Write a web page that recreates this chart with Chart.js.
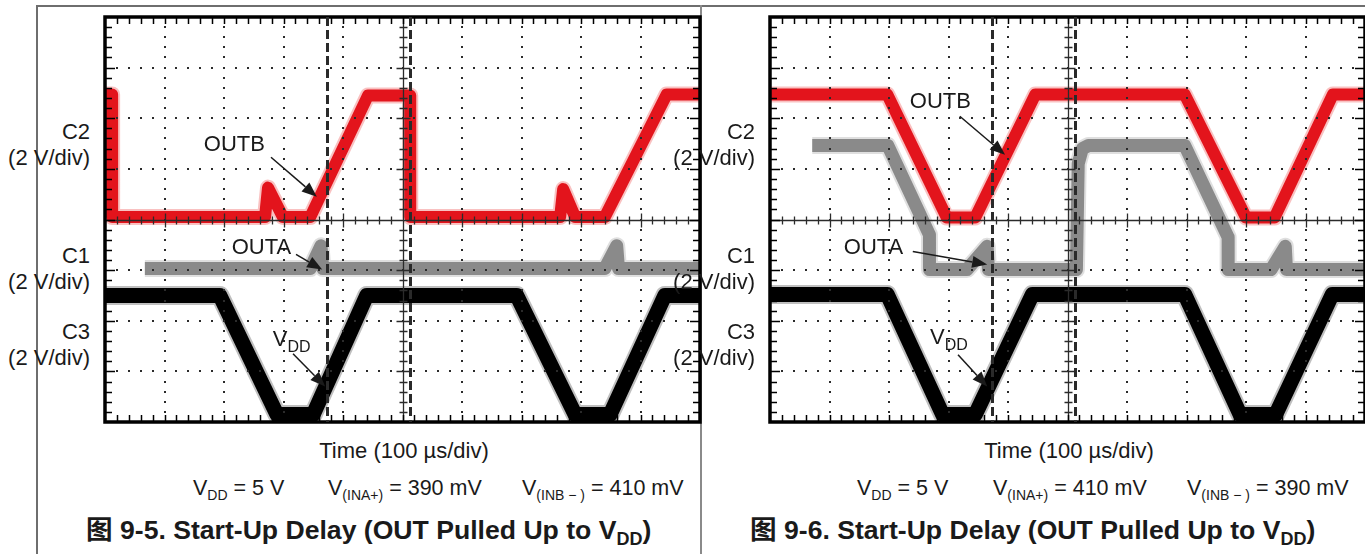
<!DOCTYPE html>
<html>
<head>
<meta charset="utf-8">
<script src="https://cdn.jsdelivr.net/npm/chart.js@4.4.1/dist/chart.umd.min.js"></script>
<style>
  body { margin: 0; width: 1365px; height: 554px; overflow: hidden; background: #fff; position: relative;
         font-family: Arial, "Liberation Sans", "Noto Sans CJK SC", sans-serif; color: #1a1a1a; }
  .rule  { position: absolute; background: #6e6e6e; }
  .lab   { position: absolute; width: 90px; text-align: right; font-size: 22px; line-height: 26px; }
  .txt   { position: absolute; font-size: 22px; line-height: 26px; white-space: nowrap; }
  .cond  { font-size: 21.5px; }
  .txt sub { font-size: 14px; vertical-align: -5px; line-height: 0; }
  .title { position: absolute; font-size: 26.6px; font-weight: bold; white-space: nowrap; line-height: 28px; }
  .title sub { font-size: 18px; vertical-align: -6px; line-height: 0; }
  canvas { position: absolute; }
</style>
</head>
<body>

<div class="rule" style="left:36px;top:5px;width:1329px;height:2px"></div>
<div class="rule" style="left:36px;top:5px;width:2px;height:549px"></div>
<div class="rule" style="left:700px;top:5px;width:2px;height:549px;background:#8a8a8a"></div>

<canvas id="fig5" width="615" height="425" style="left:95px;top:7px"></canvas>
<canvas id="fig6" width="615" height="425" style="left:760px;top:7px"></canvas>

<!-- channel labels, figure 9-5 -->
<div class="lab" style="left:0;top:119px">C2<br>(2 V/div)</div>
<div class="lab" style="left:0;top:243px">C1<br>(2 V/div)</div>
<div class="lab" style="left:0;top:319px">C3<br>(2 V/div)</div>
<!-- channel labels, figure 9-6 -->
<div class="lab" style="left:665px;top:119px">C2<br>(2 V/div)</div>
<div class="lab" style="left:665px;top:243px">C1<br>(2 V/div)</div>
<div class="lab" style="left:665px;top:319px">C3<br>(2 V/div)</div>

<div class="txt" style="left:104px;top:438px;width:600px;text-align:center">Time (100 µs/div)</div>
<div class="txt" style="left:769px;top:438px;width:600px;text-align:center">Time (100 µs/div)</div>

<div class="txt cond" style="left:193px;top:475px">V<sub>DD</sub> = 5 V</div>
<div class="txt cond" style="left:328px;top:475px">V<sub>(INA+)</sub> = 390 mV</div>
<div class="txt cond" style="left:522px;top:475px">V<sub>(INB − )</sub> = 410 mV</div>

<div class="txt cond" style="left:857px;top:475px">V<sub>DD</sub> = 5 V</div>
<div class="txt cond" style="left:993px;top:475px">V<sub>(INA+)</sub> = 410 mV</div>
<div class="txt cond" style="left:1187px;top:475px">V<sub>(INB − )</sub> = 390 mV</div>

<div class="title" style="left:86px;top:516px">图 9-5. Start-Up Delay (OUT Pulled Up to V<sub>DD</sub>)</div>
<div class="title" style="left:750px;top:516px">图 9-6. Start-Up Delay (OUT Pulled Up to V<sub>DD</sub>)</div>

<script>
// ── Traces, in screen divisions (x: 0..10 at 100 µs/div, y: -4..4) ──────
// Figure 9-5
var outbT5 = [0, 0.12, 0.12, 2.69, 2.74, 2.99, 3.45, 4.42, 5.13, 5.13, 7.65, 7.70, 7.90, 8.40, 9.44, 10];
var outbV5 = [2.47, 2.47, 0.05, 0.05, 0.63, 0.05, 0.05, 2.45, 2.45, 0.05, 0.05, 0.60, 0.05, 0.05, 2.47, 2.47];
var outaT5 = [0.67, 3.45, 3.63, 3.66, 8.40, 8.60, 8.63, 10];
var outaV5 = [-0.97, -0.97, -0.52, -0.97, -0.97, -0.52, -0.97, -0.97];
var vddT5  = [0, 1.93, 2.89, 3.50, 4.40, 6.92, 7.90, 8.49, 9.41, 10];
var vddV5  = [-1.50, -1.50, -3.85, -3.85, -1.50, -1.50, -3.85, -3.85, -1.50, -1.50];
var cursors5 = [3.73, 5.13];

// Figure 9-6
var outbT6 = [0, 1.97, 2.97, 3.45, 4.46, 6.97, 8.00, 8.48, 9.46, 10];
var outbV6 = [2.47, 2.47, 0.04, 0.04, 2.47, 2.47, 0.04, 0.04, 2.47, 2.47];
var outaT6 = [0.71, 1.98, 2.68, 2.68, 3.31, 3.65, 3.67, 5.15, 5.18, 5.25, 5.35, 6.97, 7.70, 7.70, 8.42, 8.66, 8.68, 10];
var outaV6 = [1.46, 1.46, -0.30, -0.99, -0.99, -0.53, -0.99, -0.99, 1.10, 1.40, 1.46, 1.46, -0.35, -0.99, -0.99, -0.53, -0.99, -0.99];
var vddT6  = [0, 1.97, 2.90, 3.45, 4.41, 6.97, 7.90, 8.50, 9.45, 10];
var vddV6  = [-1.48, -1.48, -3.85, -3.85, -1.48, -1.48, -3.85, -3.85, -1.48, -1.48];
var cursors6 = [3.73, 5.13];

// Callouts (label position + arrow, in divisions)
var notes5 = [
    { text: 'OUTB', x: 1.66, y: 1.48,  from: [2.79, 1.23],  to: [3.56, 0.45] },
    { text: 'OUTA', x: 2.13, y: -0.57, from: [3.21, -0.69], to: [3.65, -0.99] },
    { text: 'V', sub: 'DD', x: 2.82, y: -2.37, from: [3.16, -2.65], to: [3.70, -3.30] }
];
var notes6 = [
    { text: 'OUTB', x: 2.35, y: 2.33,  from: [3.19, 2.04],  to: [3.95, 1.28] },
    { text: 'OUTA', x: 1.24, y: -0.57, from: [2.40, -0.63], to: [3.65, -0.89] },
    { text: 'V', sub: 'DD', x: 2.69, y: -2.33, from: [3.16, -2.67], to: [3.65, -3.30] }
];

function pts(t, v) {
    return t.map(function(x, i) { return { x: x, y: v[i] }; });
}

// ── Oscilloscope graticule, cursors and callouts ─────────────────────────
var scopePlugin = {
    id: 'scope',
    afterDatasetsDraw: function(chart, args, opts) {
        var ctx = chart.ctx, a = chart.chartArea;
        var sx = chart.scales.x, sy = chart.scales.y;
        var i, k, px, py;
        ctx.save();

        // dotted grid
        ctx.fillStyle = '#2b2b2b';
        for (i = 1; i < 10; i++) {
            if (i === 5) continue;
            px = Math.round(sx.getPixelForValue(i));
            for (k = 1; k < 40; k++) {
                py = Math.round(sy.getPixelForValue(-4 + k * 0.2));
                ctx.fillRect(px - 1, py - 1, 2, 2);
            }
        }
        for (i = -3; i <= 3; i++) {
            if (i === 0) continue;
            py = Math.round(sy.getPixelForValue(i));
            for (k = 1; k < 50; k++) {
                px = Math.round(sx.getPixelForValue(k * 0.2));
                ctx.fillRect(px - 1, py - 1, 2, 2);
            }
        }

        // centre cross with ticks
        var cx = Math.round(sx.getPixelForValue(5)) + 0.5;
        var cy = Math.round(sy.getPixelForValue(0)) + 0.5;
        ctx.strokeStyle = '#2b2b2b';
        ctx.lineWidth = 1.3;
        ctx.beginPath();
        ctx.moveTo(a.left, cy); ctx.lineTo(a.right, cy);
        ctx.moveTo(cx, a.top); ctx.lineTo(cx, a.bottom);
        for (k = 1; k < 50; k++) {
            px = Math.round(sx.getPixelForValue(k * 0.2)) + 0.5;
            var h = (k % 5 === 0) ? 7 : 4;
            ctx.moveTo(px, cy - h); ctx.lineTo(px, cy + h);
        }
        for (k = 1; k < 40; k++) {
            py = Math.round(sy.getPixelForValue(-4 + k * 0.2)) + 0.5;
            var w = (k % 5 === 0) ? 7 : 4;
            ctx.moveTo(cx - w, py); ctx.lineTo(cx + w, py);
        }
        ctx.stroke();

        // border ticks
        ctx.strokeStyle = '#000';
        ctx.lineWidth = 1.5;
        ctx.beginPath();
        for (k = 1; k < 50; k++) {
            px = Math.round(sx.getPixelForValue(k * 0.2)) + 0.5;
            ctx.moveTo(px, a.top); ctx.lineTo(px, a.top + 7);
            ctx.moveTo(px, a.bottom); ctx.lineTo(px, a.bottom - 7);
        }
        for (k = 1; k < 40; k++) {
            py = Math.round(sy.getPixelForValue(-4 + k * 0.2)) + 0.5;
            var len = (k % 5 === 0) ? 10 : 7;
            ctx.moveTo(a.left, py); ctx.lineTo(a.left + len, py);
            ctx.moveTo(a.right, py); ctx.lineTo(a.right - len, py);
        }
        ctx.stroke();

        // frame
        ctx.lineWidth = 3.5;
        ctx.strokeRect(a.left, a.top, a.right - a.left, a.bottom - a.top);

        // cursors
        ctx.strokeStyle = '#2a2a2a';
        ctx.lineWidth = 3;
        ctx.setLineDash([9, 4]);
        ctx.beginPath();
        opts.cursors.forEach(function(c) {
            var cxp = Math.round(sx.getPixelForValue(c)) + 0.5;
            ctx.moveTo(cxp, a.top); ctx.lineTo(cxp, a.bottom);
        });
        ctx.stroke();
        ctx.setLineDash([]);

        // callouts
        ctx.fillStyle = '#1a1a1a';
        ctx.strokeStyle = '#1a1a1a';
        ctx.textBaseline = 'middle';
        ctx.textAlign = 'left';
        opts.notes.forEach(function(n) {
            var tx = sx.getPixelForValue(n.x), ty = sy.getPixelForValue(n.y);
            ctx.font = '22px Arial, "Liberation Sans", sans-serif';
            ctx.fillText(n.text, tx, ty);
            if (n.sub) {
                var tw = ctx.measureText(n.text).width;
                ctx.font = '16px Arial, "Liberation Sans", sans-serif';
                ctx.fillText(n.sub, tx + tw, ty + 8);
            }
            var x0 = sx.getPixelForValue(n.from[0]), y0 = sy.getPixelForValue(n.from[1]);
            var x1 = sx.getPixelForValue(n.to[0]),   y1 = sy.getPixelForValue(n.to[1]);
            var ang = Math.atan2(y1 - y0, x1 - x0);
            var hl = 15, hw = 6;
            var bx = x1 - hl * Math.cos(ang), by = y1 - hl * Math.sin(ang);
            ctx.lineWidth = 1.5;
            ctx.beginPath();
            ctx.moveTo(x0, y0); ctx.lineTo(bx, by);
            ctx.stroke();
            ctx.beginPath();
            ctx.moveTo(x1, y1);
            ctx.lineTo(bx + hw * Math.sin(ang), by - hw * Math.cos(ang));
            ctx.lineTo(bx - hw * Math.sin(ang), by + hw * Math.cos(ang));
            ctx.closePath();
            ctx.fill();
        });

        ctx.restore();
    }
};

function trace(data, color, fuzz, width) {
    return [
        { data: data, borderColor: color, borderWidth: width },
        { data: data, borderColor: fuzz, borderWidth: width + 4 }
    ];
}

function makeScope(id, sets, cursors, notes) {
    var datasets = [];
    sets.forEach(function(s) { datasets = datasets.concat(s); });
    datasets.forEach(function(d) {
        d.pointRadius = 0;
        d.tension = 0;
        d.fill = false;
        d.borderJoinStyle = 'round';
    });
    return new Chart(document.getElementById(id), {
        type: 'line',
        data: { datasets: datasets },
        options: {
            responsive: false,
            animation: false,
            events: [],
            layout: { padding: 10 },
            plugins: {
                legend: { display: false },
                tooltip: { enabled: false },
                scope: { cursors: cursors, notes: notes }
            },
            scales: {
                x: { type: 'linear', min: 0, max: 10, display: false },
                y: { type: 'linear', min: -4, max: 4, display: false }
            }
        },
        plugins: [scopePlugin]
    });
}

makeScope('fig5', [
    trace(pts(outaT5, outaV5), '#8a8a8a', 'rgba(150,150,150,0.3)', 13),
    trace(pts(outbT5, outbV5), '#e3141c', 'rgba(235,50,50,0.3)', 12),
    trace(pts(vddT5, vddV5),   '#000000', 'rgba(0,0,0,0.25)', 15)
], cursors5, notes5);

makeScope('fig6', [
    trace(pts(outaT6, outaV6), '#8a8a8a', 'rgba(150,150,150,0.3)', 13),
    trace(pts(outbT6, outbV6), '#e3141c', 'rgba(235,50,50,0.3)', 12),
    trace(pts(vddT6, vddV6),   '#000000', 'rgba(0,0,0,0.25)', 15)
], cursors6, notes6);
</script>
</body>
</html>
